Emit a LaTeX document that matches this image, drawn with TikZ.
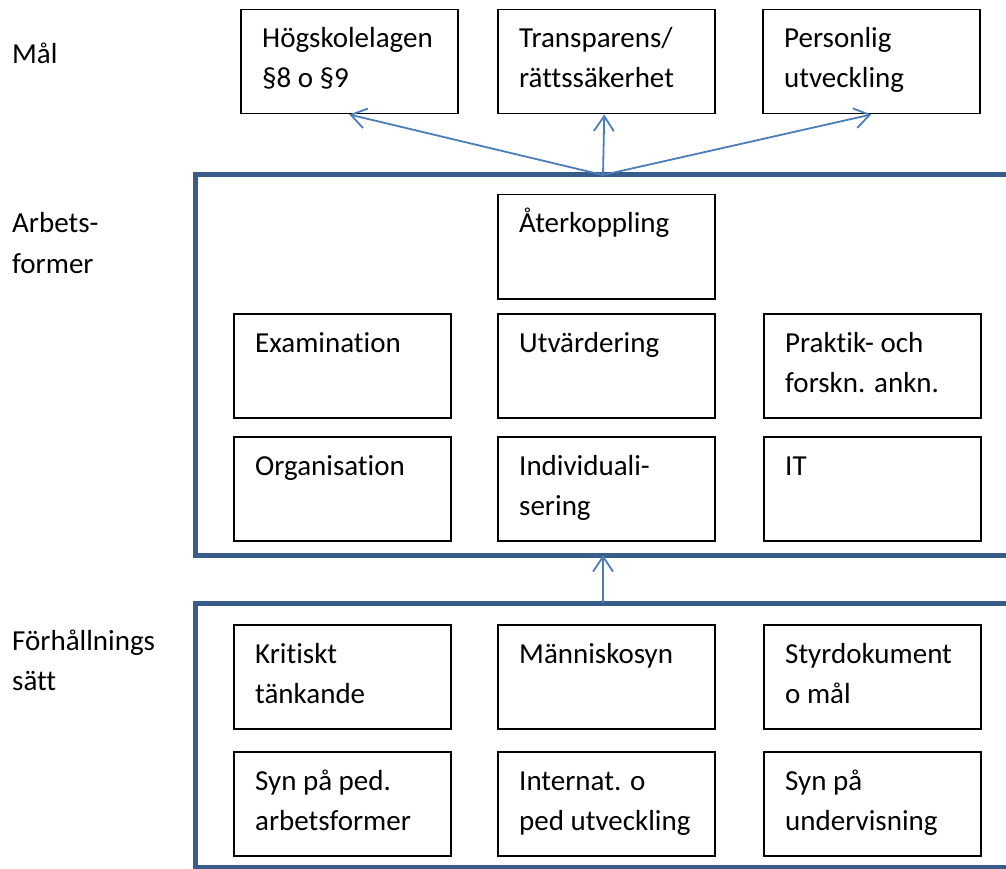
\documentclass[tikz,border=0pt]{standalone}
\usepackage{fontspec}
\setmainfont{Carlito}[Ligatures={NoCommon}]
\usetikzlibrary{arrows.meta}
\definecolor{ramblue}{RGB}{56,93,138}
\definecolor{pilblue}{RGB}{74,126,187}
\newcommand{\tvarad}[2]{\vtop{\hbox{#1}\hbox{#2}}}
\tikzset{
  ruta/.style={draw, line width=1.5pt, minimum width=217pt, minimum height=104pt, inner sep=0pt, anchor=north west},
  rtext/.style={anchor=base west, inner sep=0pt, font=\fontsize{29}{40}\selectfont},
  ram/.style={draw=ramblue, line width=5pt},
  pil/.style={draw=pilblue, line width=1.8pt, -{Straight Barb[length=15pt,width=20pt]}}
}
\begin{document}
\begin{tikzpicture}[x=1pt,y=-1pt]
\useasboundingbox (0,0) rectangle (1006,869);
\clip (0,0) rectangle (1006,869);
% ramar
\draw[ram] (195,175) rectangle (1040,555);
\draw[ram] (195,603) rectangle (1040,867);
\path (603,175) coordinate (topp)
      (603,555) coordinate (ramin)
      (603,603) coordinate (ramut);
% rubriker till vanster
\node[rtext] (mal) at (12,64) {Mål};
\node[rtext] (arb) at (12,233) {\tvarad{Arbets-}{former}};
\node[rtext] (forh) at (12,650) {\tvarad{Förhållnings}{sätt}};
% rutor
\foreach \n/\x/\y/\t in {
  hs/240/9/{\tvarad{Högskolelagen}{§8 o §9}},
  tr/497/9/{\tvarad{Transparens/}{rättssäkerhet}},
  pu/762/9/{\tvarad{Personlig}{utveckling}},
  ak/497/194/{Återkoppling},
  ex/233/313/{Examination},
  uv/497/313/{Utvärdering},
  pf/763/313/{\tvarad{Praktik- och}{forskn. ankn.}},
  or/233/436/{Organisation},
  iv/497/436/{\tvarad{Individuali-}{sering}},
  it/763/436/{IT},
  kt/233/624/{\tvarad{Kritiskt}{tänkande}},
  ms/497/624/{Människosyn},
  sd/763/624/{\tvarad{Styrdokument}{o mål}},
  sp/233/751/{\tvarad{Syn på ped.}{arbetsformer}},
  ip/497/751/{\tvarad{Internat. o}{ped utveckling}},
  su/763/751/{\tvarad{Syn på}{undervisning}}}
{
  \node[ruta] (\n) at (\x,\y) {};
  \node[rtext] at ([shift={(22,39)}]\n.north west) {\t};
}
% pilar
\draw[pil] (topp) -- (hs.south);
\draw[pil] (topp) -- ([xshift=-2pt]tr.south);
\draw[pil] (topp) -- (pu.south);
\draw[pil] (ramut) -- (ramin);
\end{tikzpicture}
\end{document}
